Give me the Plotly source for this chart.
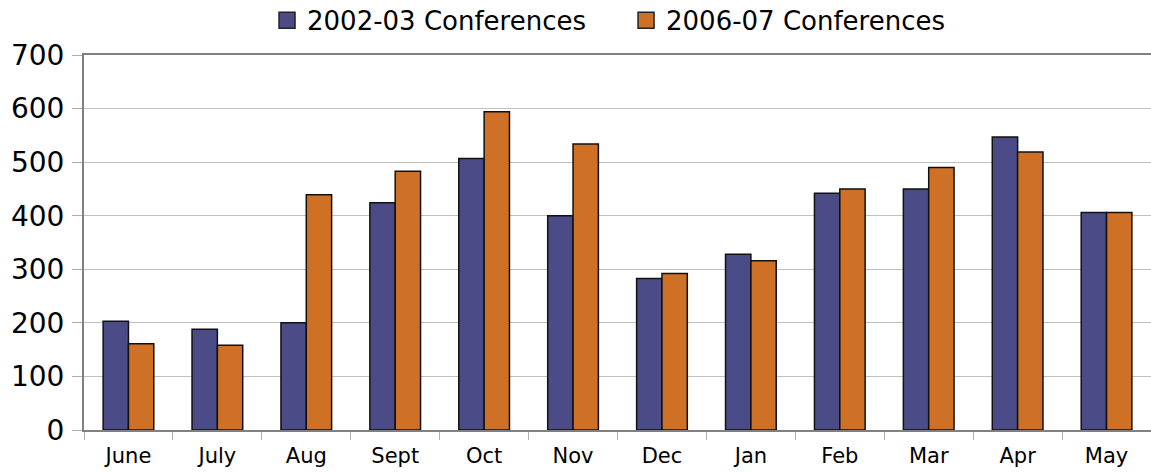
import plotly.graph_objects as go

months = ["June", "July", "Aug", "Sept", "Oct", "Nov", "Dec", "Jan", "Feb", "Mar", "Apr", "May"]
conf_2002_03 = [203, 188, 200, 424, 507, 400, 283, 328, 442, 450, 547, 406]
conf_2006_07 = [161, 158, 439, 483, 594, 534, 292, 316, 450, 490, 519, 406]
series_names = ["2002-03 Conferences", "2006-07 Conferences"]
series_colors = ["#4B4C87", "#CF7027"]
y_ticks = [0, 100, 200, 300, 400, 500, 600, 700]

FONT = "'DejaVu Sans', sans-serif"

fig = go.Figure()
for vals, name, col in zip([conf_2002_03, conf_2006_07], series_names, series_colors):
    fig.add_trace(go.Bar(
        x=months, y=vals, name=name, showlegend=False,
        marker=dict(color=col, line=dict(color="#111111", width=1.5)),
    ))
# legend entries with larger square symbols
for name, col in zip(series_names, series_colors):
    fig.add_trace(go.Scatter(
        x=[months[0]], y=[None], name=name, mode="markers",
        marker=dict(symbol="square", size=16, color=col, line=dict(color="#222222", width=1.5)),
        showlegend=True, hoverinfo="skip",
    ))

fig.update_layout(
    width=1151, height=473,
    margin=dict(l=84, r=0, t=55, b=43, autoexpand=False),
    paper_bgcolor="white", plot_bgcolor="white",
    barmode="group", bargap=0.43, bargroupgap=0,
    font=dict(family=FONT, color="black"),
    showlegend=True,
    legend=dict(
        orientation="h", xref="container", yref="container",
        x=0.232, xanchor="left", y=0.957, yanchor="middle",
        font=dict(size=26, family=FONT), entrywidth=314,
        bgcolor="rgba(0,0,0,0)", traceorder="normal",
    ),
    xaxis=dict(
        range=[-0.5, 11.5],
        showline=True, linecolor="#808080", linewidth=2, mirror=True,
        ticks="outside", tickson="boundaries", ticklen=8, tickcolor="#b0b0b0",
        tickfont=dict(size=21, family=FONT), ticklabelstandoff=6,
        showgrid=False, automargin=False,
    ),
    yaxis=dict(
        range=[0, 700], tickvals=y_ticks, showgrid=True, gridcolor="#c0c0c0", gridwidth=1,
        showline=True, linecolor="#808080", linewidth=2,
        ticks="outside", ticklen=10, tickcolor="#b0b0b0",
        tickfont=dict(size=28, family=FONT), ticklabelstandoff=2,
        zeroline=False, automargin=False,
    ),
)

fig.write_html(
    "out.html",
    config={"displayModeBar": False},
    post_script="document.body.style.margin='0px';",
)
